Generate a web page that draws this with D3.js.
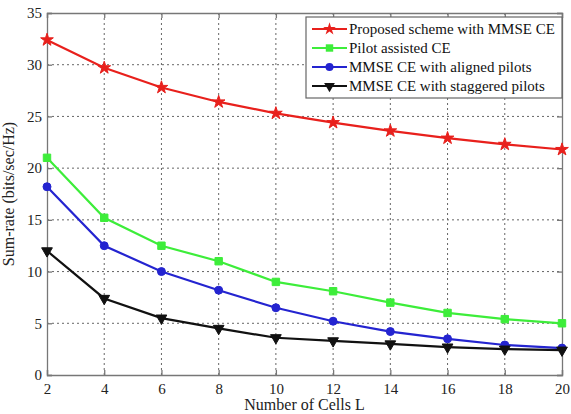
<!DOCTYPE html>
<html>
<head>
<meta charset="utf-8">
<script src="https://cdn.jsdelivr.net/npm/d3@7"></script>
<style>
body { margin: 0; background: #fff; }
text { font-family: "Liberation Serif", "Times New Roman", serif; }
</style>
</head>
<body>
<div id="chart"></div>
<script>
// data
const cells = [2, 4, 6, 8, 10, 12, 14, 16, 18, 20];
const proposed = [32.4, 29.7, 27.8, 26.4, 25.3, 24.4, 23.6, 22.9, 22.3, 21.8];
const pilotAssisted = [21.0, 15.2, 12.5, 11.0, 9.0, 8.1, 7.0, 6.0, 5.4, 5.0];
const aligned = [18.2, 12.5, 10.0, 8.2, 6.5, 5.2, 4.2, 3.5, 2.9, 2.6];
const staggered = [12.0, 7.4, 5.5, 4.5, 3.6, 3.3, 3.0, 2.7, 2.5, 2.4];
const yTicks = [0, 5, 10, 15, 20, 25, 30, 35];
const seriesNames = ["Proposed scheme with MMSE CE", "Pilot assisted CE",
    "MMSE CE with aligned pilots", "MMSE CE with staggered pilots"];

const series = [
    {name: seriesNames[0], values: proposed, color: "#e8201c", symbol: d3.symbolStar, size: 50, rot: 0},
    {name: seriesNames[1], values: pilotAssisted, color: "#3ded3a", symbol: d3.symbolSquare, size: 55, rot: 0},
    {name: seriesNames[2], values: aligned, color: "#2424d0", symbol: d3.symbolCircle, size: 50, rot: 0},
    {name: seriesNames[3], values: staggered, color: "#111111", symbol: d3.symbolTriangle, size: 50, rot: 180}
];

const W = 571, H = 414;
const margin = {top: 13, right: 9, bottom: 39, left: 47};
const width = W - margin.left - margin.right;
const height = H - margin.top - margin.bottom;

const svg = d3.select("#chart").append("svg")
    .attr("width", W)
    .attr("height", H)
    .append("g")
    .attr("transform", "translate(" + margin.left + "," + margin.top + ")");

const x = d3.scaleLinear().domain([2, 20]).range([0, width]);
const y = d3.scaleLinear().domain([0, 35]).range([height, 0]);

// grid
svg.append("g").selectAll("line.vg")
    .data(cells.slice(1, -1))
    .enter().append("line")
    .attr("x1", d => x(d)).attr("x2", d => x(d))
    .attr("y1", 0).attr("y2", height)
    .attr("stroke", "#666").attr("stroke-width", 1)
    .attr("stroke-dasharray", "2,3");
svg.append("g").selectAll("line.hg")
    .data(yTicks.slice(1, -1))
    .enter().append("line")
    .attr("x1", 0).attr("x2", width)
    .attr("y1", d => y(d)).attr("y2", d => y(d))
    .attr("stroke", "#666").attr("stroke-width", 1)
    .attr("stroke-dasharray", "2,3");

// axes
const xAxis = d3.axisBottom(x).tickValues(cells).tickSize(-5).tickPadding(8);
const yAxis = d3.axisLeft(y).tickValues(yTicks).tickSize(-5).tickPadding(5);
const xTop = d3.axisTop(x).tickValues(cells).tickSize(-5).tickFormat("");
const yRight = d3.axisRight(y).tickValues(yTicks).tickSize(-5).tickFormat("");

svg.append("g").attr("class", "axis").attr("transform", "translate(0," + height + ")").call(xAxis);
svg.append("g").attr("class", "axis").call(yAxis);
svg.append("g").attr("class", "axis").call(xTop);
svg.append("g").attr("class", "axis").attr("transform", "translate(" + width + ",0)").call(yRight);

svg.selectAll(".axis path, .axis line").attr("stroke", "#777").attr("stroke-width", 1.3);
svg.selectAll(".axis text")
    .attr("font-size", 15)
    .attr("fill", "#222")
    .style("font-family", "Liberation Serif, serif");

// lines + markers
const line = d3.line()
    .x((d, i) => x(cells[i]))
    .y(d => y(d));

series.forEach(s => {
    svg.append("path")
        .datum(s.values)
        .attr("fill", "none")
        .attr("stroke", s.color)
        .attr("stroke-width", 2.2)
        .attr("d", line);

    svg.append("g").selectAll("path")
        .data(s.values)
        .enter().append("path")
        .attr("d", d3.symbol().type(s.symbol).size(s.size))
        .attr("transform", (d, i) => "translate(" + x(cells[i]) + "," + y(d) + ") rotate(" + s.rot + ")")
        .attr("fill", s.color)
        .attr("stroke", s.color)
        .attr("stroke-width", 1);
});

// legend
const legend = svg.append("g").attr("transform", "translate(" + (306 - margin.left) + "," + (17 - margin.top) + ")");
legend.append("rect")
    .attr("width", 256).attr("height", 81)
    .attr("fill", "#fff").attr("stroke", "#666").attr("stroke-width", 1.2);

series.forEach((s, i) => {
    const g = legend.append("g").attr("transform", "translate(0," + (12 + i * 19) + ")");
    g.append("line")
        .attr("x1", 6).attr("x2", 41)
        .attr("stroke", s.color).attr("stroke-width", 2.2);
    g.append("path")
        .attr("d", d3.symbol().type(s.symbol).size(s.size))
        .attr("transform", "translate(23.5,0) rotate(" + s.rot + ")")
        .attr("fill", s.color);
    g.append("text")
        .attr("x", 43).attr("y", 5)
        .attr("font-size", 15)
        .attr("fill", "#111")
        .text(s.name);
});

// axis titles
svg.append("text")
    .attr("x", width / 2)
    .attr("y", height + 35)
    .attr("text-anchor", "middle")
    .attr("font-size", 16)
    .attr("fill", "#222")
    .text("Number of Cells L");

svg.append("text")
    .attr("transform", "rotate(-90)")
    .attr("x", -height / 2)
    .attr("y", -33)
    .attr("text-anchor", "middle")
    .attr("font-size", 16)
    .attr("fill", "#222")
    .text("Sum-rate (bits/sec/Hz)");
</script>
</body>
</html>
